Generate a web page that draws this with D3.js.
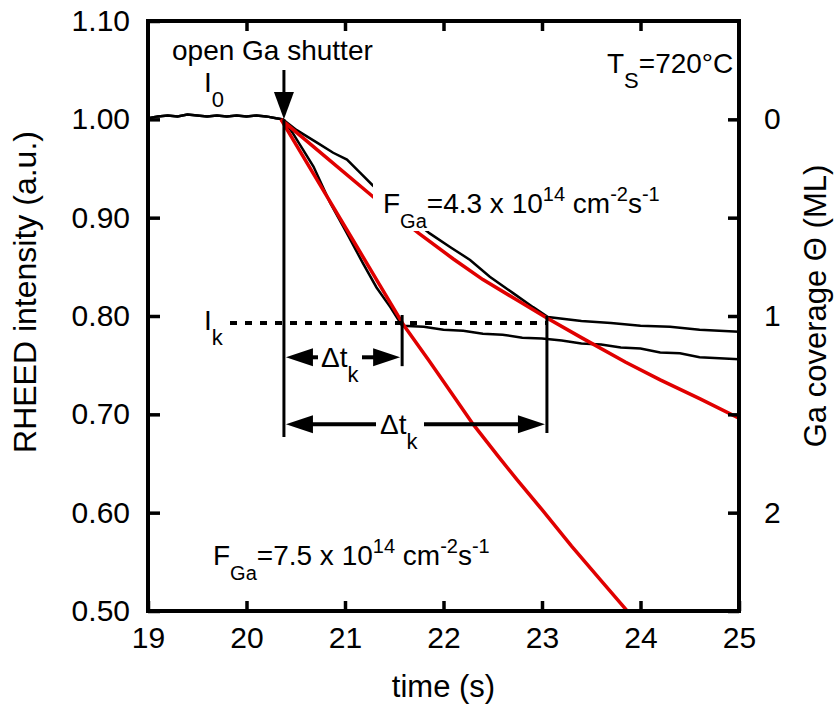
<!DOCTYPE html>
<html>
<head>
<meta charset="utf-8">
<script src="https://cdn.jsdelivr.net/npm/d3@7.9.0/dist/d3.min.js"></script>
<style>
  body { margin: 0; background: #fff; }
  svg { font-family: "Liberation Sans", Arial, sans-serif; }
</style>
</head>
<body>
<svg width="835" height="708"></svg>
<script>
// shared part before the shutter opens
const preTime = [19.0, 19.1, 19.2, 19.3, 19.4, 19.5, 19.6, 19.7, 19.8, 19.9, 20.0, 20.1, 20.2, 20.3];
const preValue = [1.001, 1.003, 1.004, 1.003, 1.005, 1.004, 1.003, 1.004, 1.003, 1.004, 1.003, 1.004, 1.003, 1.001];

// black data, F = 7.5e14
const fastTime = [20.37, 20.47, 20.68, 20.85, 21.02, 21.18, 21.32, 21.46, 21.58, 21.8, 22.0, 22.2, 22.4, 22.6, 22.8, 23.0, 23.2, 23.4, 23.6, 23.8, 24.0, 24.2, 24.4, 24.6, 24.8, 25.0];
const fastValue = [1.0, 0.986, 0.952, 0.915, 0.884, 0.854, 0.829, 0.809, 0.790, 0.789, 0.786, 0.785, 0.782, 0.781, 0.778, 0.777, 0.775, 0.772, 0.771, 0.768, 0.767, 0.763, 0.762, 0.758, 0.757, 0.756];

// black data, F = 4.3e14
const slowTime = [20.37, 20.51, 20.72, 20.88, 21.02, 21.15, 21.28, 21.45, 21.65, 21.86, 22.07, 22.27, 22.47, 22.71, 22.91, 23.06, 23.4, 23.7, 24.0, 24.3, 24.6, 25.0];
const slowValue = [1.0, 0.989, 0.976, 0.966, 0.959, 0.946, 0.933, 0.918, 0.901, 0.884, 0.870, 0.857, 0.840, 0.823, 0.809, 0.799, 0.795, 0.793, 0.790, 0.789, 0.786, 0.784];

// red fits
const fitFastTime = [20.35, 20.6, 20.85, 21.1, 21.35, 21.6, 21.85, 22.1, 22.3, 22.55, 22.75, 23.0, 23.3, 23.6, 23.9];
const fitFastValue = [1.0, 0.958, 0.916, 0.874, 0.832, 0.790, 0.755, 0.719, 0.690, 0.658, 0.633, 0.603, 0.566, 0.531, 0.496];
const fitSlowTime = [20.35, 20.8, 21.3, 21.75, 22.1, 22.4, 22.75, 23.05, 23.4, 23.85, 24.2, 24.6, 25.0];
const fitSlowValue = [1.0, 0.962, 0.920, 0.884, 0.858, 0.837, 0.816, 0.798, 0.778, 0.753, 0.735, 0.716, 0.696];

const xTicks = [19, 20, 21, 22, 23, 24, 25];
const yTicks = [0.5, 0.6, 0.7, 0.8, 0.9, 1.0, 1.1];
const thetaTicks = [0, 0.5, 1, 1.5, 2, 2.5];
const thetaLabels = [0, 1, 2];

const shutterT = 20.38, kFastT = 21.58, kSlowT = 23.05, iK = 0.793;

const svg = d3.select('svg');
const x = d3.scaleLinear().domain([19, 25]).range([148, 739]);
const y = d3.scaleLinear().domain([0.5, 1.1]).range([611, 21]);
const theta = d3.scaleLinear().domain([0, 2.5]).range([y(1.0), y(0.5)]);

svg.append('clipPath').attr('id', 'plot')
  .append('rect').attr('x', x(19)).attr('y', y(1.1)).attr('width', x(25) - x(19)).attr('height', y(0.5) - y(1.1));

function zip(ts, vs) { return ts.map((t, i) => [t, vs[i]]); }
const line = d3.line().x(d => x(d[0])).y(d => y(d[1]));

const curves = svg.append('g').attr('clip-path', 'url(#plot)');
const pre = zip(preTime, preValue);
curves.append('path').attr('d', line(pre.concat(zip(fastTime, fastValue))))
  .attr('fill', 'none').attr('stroke', '#000').attr('stroke-width', 2.5);
curves.append('path').attr('d', line(pre.concat(zip(slowTime, slowValue))))
  .attr('fill', 'none').attr('stroke', '#000').attr('stroke-width', 2.5);
curves.append('path').attr('d', line(zip(fitFastTime, fitFastValue)))
  .attr('fill', 'none').attr('stroke', '#e00000').attr('stroke-width', 3.5);
curves.append('path').attr('d', line(zip(fitSlowTime, fitSlowValue)))
  .attr('fill', 'none').attr('stroke', '#e00000').attr('stroke-width', 3.5);

// text with sub/superscripts: parts = [[text, 'sub'|'sup'|null], ...]
function richText(g, px, py, parts, size, small) {
  const t = g.append('text').attr('x', px).attr('y', py).attr('font-size', size);
  let shift = 0;
  parts.forEach(([s, kind]) => {
    const target = kind === 'sub' ? 15 : kind === 'sup' ? -12 : 0;
    t.append('tspan').attr('dy', target - shift)
      .attr('font-size', kind ? small : size).text(s);
    shift = target;
  });
  return t;
}

const ann = svg.append('g');

// white box behind upper flux label
ann.append('rect').attr('x', 373).attr('y', 181).attr('width', 292).attr('height', 50).attr('fill', '#fff');
richText(ann, 383, 213, [['F'], ['Ga', 'sub'], ['=4.3 x 10'], ['14', 'sup'], [' cm'], ['-2', 'sup'], ['s'], ['-1', 'sup']], 28, 20);
richText(ann, 213, 565, [['F'], ['Ga', 'sub'], ['=7.5 x 10'], ['14', 'sup'], [' cm'], ['-2', 'sup'], ['s'], ['-1', 'sup']], 28, 20);
richText(ann, 607, 73, [['T'], ['S', 'sub'], ['=720°C']], 28, 22);
richText(ann, 204, 92, [['I'], ['0', 'sub']], 28, 22);
richText(ann, 204, 330, [['I'], ['k', 'sub']], 28, 22);
ann.append('text').attr('x', 172).attr('y', 60).attr('font-size', 28).text('open Ga shutter');

// shutter arrow
ann.append('line').attr('x1', x(shutterT)).attr('x2', x(shutterT)).attr('y1', 70).attr('y2', 96)
  .attr('stroke', '#000').attr('stroke-width', 3);
ann.append('path').attr('d', `M${x(shutterT) - 10},92 L${x(shutterT) + 10},92 L${x(shutterT)},${y(1.0)} Z`);

// vertical markers
[[shutterT, 1.0, 0.677], [kFastT, 0.801, 0.749], [kSlowT, 0.800, 0.681]].forEach(([t, v1, v2]) => {
  ann.append('line').attr('x1', x(t)).attr('x2', x(t)).attr('y1', y(v1)).attr('y2', y(v2))
    .attr('stroke', '#000').attr('stroke-width', 3);
});

// dotted I_k level
ann.append('line').attr('x1', 230).attr('x2', x(kSlowT)).attr('y1', y(iK)).attr('y2', y(iK))
  .attr('stroke', '#000').attr('stroke-width', 4).attr('stroke-dasharray', '7,8');

// double arrows with Δt_k labels
function dimArrow(t1, t2, v, gapL, gapR, labelX) {
  const yy = y(v), a = x(t1) + 2, b = x(t2) - 2;
  ann.append('line').attr('x1', a + 20).attr('x2', gapL).attr('y1', yy).attr('y2', yy).attr('stroke', '#000').attr('stroke-width', 4);
  ann.append('line').attr('x1', gapR).attr('x2', b - 20).attr('y1', yy).attr('y2', yy).attr('stroke', '#000').attr('stroke-width', 4);
  ann.append('path').attr('d', `M${a},${yy} L${a + 27},${yy - 9} L${a + 27},${yy + 9} Z`);
  ann.append('path').attr('d', `M${b},${yy} L${b - 27},${yy - 9} L${b - 27},${yy + 9} Z`);
  richText(ann, labelX, yy + 10, [['Δt'], ['k', 'sub']], 28, 22);
}
dimArrow(shutterT, kFastT, 0.758, 318, 362, 321);
dimArrow(shutterT, kSlowT, 0.690, 376, 424, 380);

// axes
const tickStyle = g => {
  g.select('.domain').remove();
  g.selectAll('.tick line').attr('stroke-width', 3.5);
  g.selectAll('.tick text').attr('font-size', 30).attr('font-family', '"Liberation Sans", Arial, sans-serif').attr('fill', '#000');
};
svg.append('g').attr('transform', `translate(0,${y(0.5)})`)
  .call(d3.axisBottom(x).tickValues(xTicks).tickSizeInner(-10).tickSizeOuter(0).tickPadding(16).tickFormat(d3.format('d')))
  .call(tickStyle);
svg.append('g').attr('transform', `translate(0,${y(1.1)})`)
  .call(d3.axisTop(x).tickValues(xTicks.slice(1, -1)).tickSizeInner(-10).tickSizeOuter(0).tickFormat(''))
  .call(tickStyle);
svg.append('g').attr('transform', `translate(${x(19)},0)`)
  .call(d3.axisLeft(y).tickValues(yTicks).tickSizeInner(-12).tickSizeOuter(0).tickPadding(18).tickFormat(d3.format('.2f')))
  .call(tickStyle);
svg.append('g').attr('transform', `translate(${x(25)},0)`)
  .call(d3.axisRight(theta).tickValues(thetaTicks).tickSizeInner(-11).tickSizeOuter(0).tickPadding(25)
    .tickFormat(d => thetaLabels.includes(d) ? d : ''))
  .call(tickStyle);

// frame
svg.append('rect').attr('x', x(19)).attr('y', y(1.1)).attr('width', x(25) - x(19)).attr('height', y(0.5) - y(1.1))
  .attr('fill', 'none').attr('stroke', '#000').attr('stroke-width', 4);

// axis titles
svg.append('text').attr('x', (x(19) + x(25)) / 2).attr('y', 697).attr('text-anchor', 'middle')
  .attr('font-size', 31).text('time (s)');
svg.append('text').attr('transform', `translate(36,292) rotate(-90)`).attr('text-anchor', 'middle')
  .attr('font-size', 32).text('RHEED intensity (a.u.)');
svg.append('text').attr('transform', `translate(826,306) rotate(-90)`).attr('text-anchor', 'middle')
  .attr('font-size', 31).text('Ga coverage Θ (ML)');
</script>
</body>
</html>
